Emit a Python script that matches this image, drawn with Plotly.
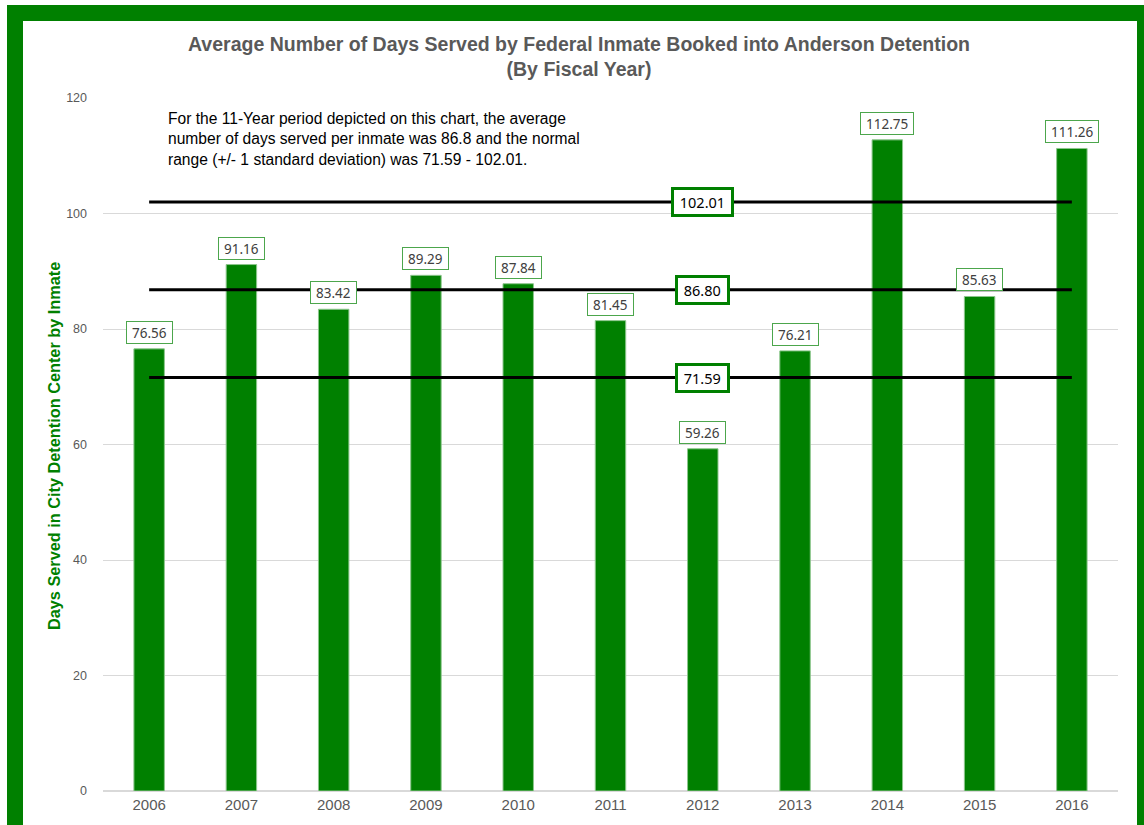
import plotly.graph_objects as go

years = ["2006", "2007", "2008", "2009", "2010", "2011", "2012", "2013", "2014", "2015", "2016"]
days = [76.56, 91.16, 83.42, 89.29, 87.84, 81.45, 59.26, 76.21, 112.75, 85.63, 111.26]
ref_values = [102.01, 86.80, 71.59]
ref_labels = ["102.01", "86.80", "71.59"]
y_ticks = [0, 20, 40, 60, 80, 100, 120]

GREEN = "#008000"
W, H = 1144, 825
L, R, T, B = 103, 26, 98, 34
pw = W - L - R
ph = H - T - B


def px(x):
    return (x - L) / pw


def py(y):
    return (H - B - y) / ph


fig = go.Figure()
fig.add_trace(go.Bar(
    x=years, y=days, width=0.33,
    marker=dict(color=GREEN, line=dict(color="#8cc68c", width=1)),
    showlegend=False, hoverinfo="x+y",
))

for v in ref_values:
    fig.add_trace(go.Scatter(
        x=[years[0], years[-1]], y=[v, v], mode="lines",
        line=dict(color="black", width=3), showlegend=False, hoverinfo="y",
    ))

annotations = []
for i, v in enumerate(days):
    annotations.append(dict(
        x=i, y=v, xref="x", yref="y", text=f"&nbsp;{v:.2f}&nbsp;", showarrow=False,
        yanchor="bottom", yshift=5, font=dict(family="Noto Sans", size=13.5, color="#404040"),
        bgcolor="white", bordercolor="#4ca64c", borderwidth=1, borderpad=1.5,
    ))

mid = years.index("2012")
for v, lab in zip(ref_values, ref_labels):
    annotations.append(dict(
        x=mid, y=v, xref="x", yref="y", text=f"&nbsp;{lab}&nbsp;", showarrow=False,
        yanchor="middle", xanchor="center", font=dict(family="Noto Sans", size=14.5, color="black"),
        bgcolor="white", bordercolor=GREEN, borderwidth=3, borderpad=2,
    ))

annotations.append(dict(
    x=px(166), y=py(108), xref="paper", yref="paper", xanchor="left", yanchor="top",
    align="left", showarrow=False,
    text="For the 11-Year period depicted on this chart, the average<br>"
         "number of days served per inmate was 86.8 and the normal<br>"
         "range (+/- 1 standard deviation) was 71.59 - 102.01.",
    font=dict(family="Liberation Sans", size=15.6, color="black"),
))

annotations.append(dict(
    x=px(579), y=py(56), xref="paper", yref="paper", xanchor="center", yanchor="middle",
    showarrow=False,
    text="<b>Average Number of Days Served by Federal Inmate Booked into Anderson Detention<br>(By Fiscal Year)</b>",
    font=dict(family="Liberation Sans", size=19.5, color="#595959"),
))

annotations.append(dict(
    x=px(54), y=py(446), xref="paper", yref="paper", xanchor="center", yanchor="middle",
    showarrow=False, textangle=-90,
    text="<b>Days Served in City Detention Center by Inmate</b>",
    font=dict(family="Liberation Sans", size=16.3, color=GREEN),
))

shapes = [
    dict(type="rect", xref="paper", yref="paper", layer="below",
         x0=px(7), x1=px(1160), y0=py(850), y1=py(5),
         fillcolor=GREEN, line=dict(width=0)),
    dict(type="rect", xref="paper", yref="paper", layer="below",
         x0=px(23), x1=px(1137), y0=py(850), y1=py(21),
         fillcolor="white", line=dict(width=0)),
]

fig.update_layout(
    width=W, height=H, autosize=False,
    margin=dict(l=L, r=R, t=T, b=B, pad=0),
    paper_bgcolor="white", plot_bgcolor="rgba(0,0,0,0)",
    annotations=annotations, shapes=shapes,
    xaxis=dict(type="category", categoryorder="array", categoryarray=years,
               range=[-0.5, len(years) - 0.5], showgrid=False, showline=True, linecolor="#d9d9d9",
               linewidth=1, ticks="", tickfont=dict(family="Liberation Sans", size=15, color="#595959"),
               fixedrange=True),
    yaxis=dict(range=[0, 120], tickvals=y_ticks, showgrid=True, gridcolor="#d9d9d9",
               gridwidth=1, zeroline=True, zerolinecolor="#d9d9d9", ticks="",
               ticklabelstandoff=15,
               tickfont=dict(family="Liberation Sans", size=12.5, color="#595959"),
               fixedrange=True),
)

fig.write_html("out.html", config={"displayModeBar": False},
               post_script="document.body.style.margin='0px';document.body.style.overflow='hidden';")
